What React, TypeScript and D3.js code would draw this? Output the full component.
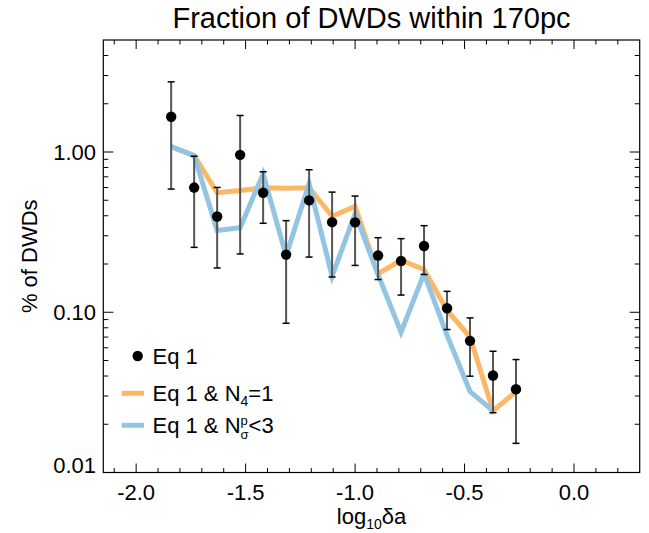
import React from "react";
import * as d3 from "d3";

const binCenters = [-1.84, -1.735, -1.63, -1.525, -1.42, -1.315, -1.21, -1.105, -1.0, -0.895, -0.79, -0.685, -0.58, -0.475, -0.37, -0.265];
const eq1Values = [1.66, 0.6, 0.396, 0.96, 0.557, 0.229, 0.499, 0.365, 0.364, 0.226, 0.209, 0.259, 0.106, 0.0663, 0.0403, 0.0331];
const eq1Upper = [2.74, 0.941, 0.601, 1.69, 0.753, 0.373, 0.775, 0.562, 0.531, 0.292, 0.288, 0.347, 0.135, 0.0922, 0.0571, 0.0507];
const eq1Lower = [0.587, 0.254, 0.189, 0.231, 0.359, 0.0854, 0.221, 0.166, 0.196, 0.16, 0.128, 0.172, 0.078, 0.0399, 0.0236, 0.0152];
const n4Values = [1.08, 0.95, 0.557, 0.575, 0.598, 0.595, 0.598, 0.397, 0.458, 0.174, 0.211, 0.185, 0.103, 0.07, 0.0243, 0.0319];
const nsigmaValues = [1.08, 0.95, 0.324, 0.337, 0.73, 0.225, 0.634, 0.168, 0.412, 0.172, 0.075, 0.174, 0.072, 0.032, 0.0243];

const xMajorTicks = [-2.0, -1.5, -1.0, -0.5, 0.0];
const xMinorTicks = [-2.1, -1.9, -1.8, -1.7, -1.6, -1.4, -1.3, -1.2, -1.1, -0.9, -0.8, -0.7, -0.6, -0.4, -0.3, -0.2, -0.1, 0.1, 0.2];
const yMajorTicks = [0.01, 0.1, 1.0];
const yMajorLabels = ["0.01", "0.10", "1.00"];
const yMinorTicks = [0.02, 0.03, 0.04, 0.05, 0.06, 0.07, 0.08, 0.09, 0.2, 0.3, 0.4, 0.5, 0.6, 0.7, 0.8, 0.9, 2, 3, 4];

const ORANGE = "#FDB866";
const BLUE = "#92C5E3";
const FONT = "'Liberation Sans', Arial, Helvetica, sans-serif";

export default function App() {
  const W = 649, H = 533;
  const left = 103.3, right = 639.7, top = 40, bottom = 472.5;
  const x = d3.scaleLinear().domain([-2.15, 0.3]).range([left, right]);
  const y = d3.scaleLog().domain([0.01, 5]).range([bottom, top]);

  const line = d3.line<number>()
    .x((_, i) => x(binCenters[i]))
    .y((d) => y(d));

  const fs = 22;

  return (
    <svg width={W} height={H} style={{ position: "absolute", left: 0, top: 0, background: "#fff" }} fontFamily={FONT}>
      <rect x={0} y={0} width={W} height={H} fill="#fff" />
      {/* title */}
      <text x={(left + right) / 2} y={28} textAnchor="middle" fontSize={29}>Fraction of DWDs within 170pc</text>

      {/* lines */}
      <path d={line(n4Values) || ""} fill="none" stroke={ORANGE} strokeWidth={5} strokeLinejoin="miter" />
      <path d={line(nsigmaValues) || ""} fill="none" stroke={BLUE} strokeWidth={5} strokeLinejoin="miter" />

      {/* error bars */}
      {binCenters.map((c, i) => (
        <g key={"e" + i}>
          <line x1={x(c)} x2={x(c)} y1={y(eq1Upper[i])} y2={y(eq1Lower[i])} stroke="#555" strokeWidth={2} />
          <line x1={x(c) - 3.5} x2={x(c) + 3.5} y1={y(eq1Upper[i])} y2={y(eq1Upper[i])} stroke="#000" strokeWidth={1.5} />
          <line x1={x(c) - 3.5} x2={x(c) + 3.5} y1={y(eq1Lower[i])} y2={y(eq1Lower[i])} stroke="#000" strokeWidth={1.5} />
        </g>
      ))}
      {binCenters.map((c, i) => (
        <circle key={"p" + i} cx={x(c)} cy={y(eq1Values[i])} r={5.2} fill="#000" />
      ))}

      {/* frame */}
      <rect x={left} y={top} width={right - left} height={bottom - top} fill="none" stroke="#000" strokeWidth={1.2} />

      {/* x ticks */}
      {xMajorTicks.map((t) => (
        <g key={"xM" + t}>
          <line x1={x(t)} x2={x(t)} y1={bottom} y2={bottom - 9} stroke="#000" strokeWidth={1} />
          <line x1={x(t)} x2={x(t)} y1={top} y2={top + 9} stroke="#000" strokeWidth={1} />
          <text x={x(t)} y={500} textAnchor="middle" fontSize={fs}>{t.toFixed(1)}</text>
        </g>
      ))}
      {xMinorTicks.map((t) => (
        <g key={"xm" + t}>
          <line x1={x(t)} x2={x(t)} y1={bottom} y2={bottom - 4.5} stroke="#000" strokeWidth={1} />
          <line x1={x(t)} x2={x(t)} y1={top} y2={top + 4.5} stroke="#000" strokeWidth={1} />
        </g>
      ))}

      {/* y ticks */}
      {yMajorTicks.map((t, i) => (
        <g key={"yM" + t}>
          <line x1={left} x2={left + 10} y1={y(t)} y2={y(t)} stroke="#000" strokeWidth={1} />
          <line x1={right} x2={right - 10} y1={y(t)} y2={y(t)} stroke="#000" strokeWidth={1} />
          <text x={96} y={Math.min(y(t), 465)} dy="0.36em" textAnchor="end" fontSize={fs}>{yMajorLabels[i]}</text>
        </g>
      ))}
      {yMinorTicks.map((t) => (
        <g key={"ym" + t}>
          <line x1={left} x2={left + 5} y1={y(t)} y2={y(t)} stroke="#000" strokeWidth={1} />
          <line x1={right} x2={right - 5} y1={y(t)} y2={y(t)} stroke="#000" strokeWidth={1} />
        </g>
      ))}

      {/* axis labels */}
      <text x={(left + right) / 2} y={524} textAnchor="middle" fontSize={fs}>
        log<tspan fontSize={14} dy={5}>10</tspan><tspan dy={-5}>δa</tspan>
      </text>
      <text transform={`translate(37, ${(top + bottom) / 2}) rotate(-90)`} textAnchor="middle" fontSize={fs}>% of DWDs</text>

      {/* legend */}
      <circle cx={137.7} cy={356} r={5.2} fill="#000" />
      <text x={152.5} y={364} fontSize={fs}>Eq 1</text>
      <line x1={121.7} x2={144} y1={393.3} y2={393.3} stroke={ORANGE} strokeWidth={5} />
      <text x={152.5} y={401} fontSize={fs}>
        Eq 1 &amp; N<tspan fontSize={14} dy={5}>4</tspan><tspan dy={-5}>=1</tspan>
      </text>
      <line x1={121.7} x2={144} y1={425.3} y2={425.3} stroke={BLUE} strokeWidth={5} />
      <text x={152.5} y={433} fontSize={fs}>
        Eq 1 &amp; N<tspan fontSize={13} dy={-8}>p</tspan><tspan fontSize={13} dx={-7.2} dy={14}>σ</tspan><tspan dy={-6}>&lt;3</tspan>
      </text>
    </svg>
  );
}
